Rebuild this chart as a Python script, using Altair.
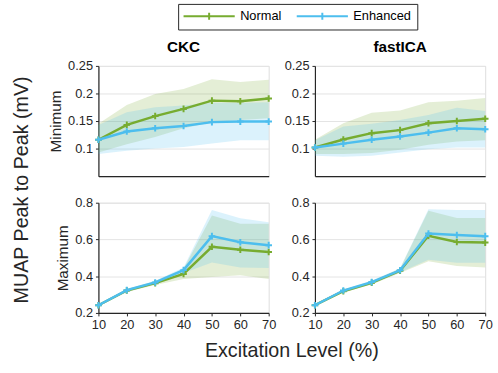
import altair as alt
import pandas as pd

levels = [10, 20, 30, 40, 50, 60, 70]
groups = ["Normal", "Enhanced"]
group_colors = ["#77AC30", "#4DBEEE"]

# CKC - Minimum
ckc_min_normal_mean = [0.116, 0.143, 0.159, 0.172, 0.187, 0.186, 0.191]
ckc_min_normal_lo = [0.093, 0.108, 0.121, 0.137, 0.148, 0.152, 0.155]
ckc_min_normal_hi = [0.145, 0.179, 0.199, 0.208, 0.226, 0.221, 0.225]
ckc_min_enh_mean = [0.116, 0.131, 0.137, 0.141, 0.148, 0.149, 0.149]
ckc_min_enh_lo = [0.090, 0.096, 0.100, 0.103, 0.109, 0.115, 0.115]
ckc_min_enh_hi = [0.143, 0.166, 0.175, 0.178, 0.183, 0.183, 0.184]

# fastICA - Minimum
ica_min_normal_mean = [0.102, 0.1165, 0.128, 0.1335, 0.146, 0.150, 0.154]
ica_min_normal_lo = [0.090, 0.090, 0.092, 0.098, 0.107, 0.113, 0.115]
ica_min_normal_hi = [0.116, 0.146, 0.165, 0.169, 0.184, 0.187, 0.192]
ica_min_enh_mean = [0.102, 0.109, 0.116, 0.122, 0.129, 0.137, 0.135]
ica_min_enh_lo = [0.087, 0.085, 0.087, 0.093, 0.099, 0.102, 0.102]
ica_min_enh_hi = [0.115, 0.140, 0.145, 0.152, 0.161, 0.174, 0.168]

# CKC - Maximum
ckc_max_normal_mean = [0.242, 0.322, 0.362, 0.412, 0.560, 0.544, 0.532]
ckc_max_normal_lo = [0.235, 0.314, 0.352, 0.385, 0.395, 0.405, 0.385]
ckc_max_normal_hi = [0.249, 0.330, 0.372, 0.440, 0.730, 0.685, 0.685]
ckc_max_enh_mean = [0.242, 0.324, 0.366, 0.433, 0.618, 0.585, 0.569]
ckc_max_enh_lo = [0.236, 0.316, 0.357, 0.418, 0.474, 0.447, 0.444]
ckc_max_enh_hi = [0.248, 0.332, 0.375, 0.448, 0.760, 0.715, 0.694]

# fastICA - Maximum
ica_max_normal_mean = [0.242, 0.318, 0.364, 0.430, 0.620, 0.586, 0.583]
ica_max_normal_lo = [0.236, 0.311, 0.355, 0.418, 0.482, 0.456, 0.447]
ica_max_normal_hi = [0.248, 0.326, 0.373, 0.442, 0.756, 0.717, 0.717]
ica_max_enh_mean = [0.242, 0.322, 0.368, 0.432, 0.632, 0.624, 0.618]
ica_max_enh_lo = [0.236, 0.315, 0.360, 0.421, 0.490, 0.473, 0.473]
ica_max_enh_hi = [0.248, 0.329, 0.376, 0.443, 0.765, 0.760, 0.760]

series = {
    ("CKC", "Minimum", "Normal"): (ckc_min_normal_mean, ckc_min_normal_lo, ckc_min_normal_hi),
    ("CKC", "Minimum", "Enhanced"): (ckc_min_enh_mean, ckc_min_enh_lo, ckc_min_enh_hi),
    ("fastICA", "Minimum", "Normal"): (ica_min_normal_mean, ica_min_normal_lo, ica_min_normal_hi),
    ("fastICA", "Minimum", "Enhanced"): (ica_min_enh_mean, ica_min_enh_lo, ica_min_enh_hi),
    ("CKC", "Maximum", "Normal"): (ckc_max_normal_mean, ckc_max_normal_lo, ckc_max_normal_hi),
    ("CKC", "Maximum", "Enhanced"): (ckc_max_enh_mean, ckc_max_enh_lo, ckc_max_enh_hi),
    ("fastICA", "Maximum", "Normal"): (ica_max_normal_mean, ica_max_normal_lo, ica_max_normal_hi),
    ("fastICA", "Maximum", "Enhanced"): (ica_max_enh_mean, ica_max_enh_lo, ica_max_enh_hi),
}

rows = []
for (method, metric, group), (m, lo, hi) in series.items():
    for i, lv in enumerate(levels):
        rows.append(dict(method=method, metric=metric, group=group,
                         level=lv, mean=m[i], lo=lo[i], hi=hi[i]))
df = pd.DataFrame(rows)

W, H = 173, 112
FONT = "Liberation Sans"
AX_COL = "#262626"
PLUS = "M-1,0H1M0,-1V1"
LEG_SYM = "M-5.2,0H5.2M0,-0.7V0.7"

color_scale = alt.Scale(domain=groups, range=group_colors)
legend = alt.Legend(
    orient="none", legendX=81, legendY=-63, direction="horizontal", title=None,
    symbolType=LEG_SYM, symbolSize=100, symbolStrokeWidth=2, symbolOffset=19,
    symbolFillColor="transparent",
    labelFontSize=13, labelFont=FONT, labelColor="#000000",
    strokeColor=AX_COL, fillColor="white", padding=6, columnPadding=11,
    labelOffset=25,
)


def panel(method, metric, bottom, left):
    d = df[(df.method == method) & (df.metric == metric)]
    if metric == "Minimum":
        dom, vals = [0.05, 0.25], [0.1, 0.15, 0.2, 0.25]
    else:
        dom, vals = [0.2, 0.8], [0.2, 0.4, 0.6, 0.8]
    xenc = alt.X(
        "level:Q",
        scale=alt.Scale(domain=[10, 70], nice=False, zero=False),
        axis=alt.Axis(values=levels, labels=bottom, ticks=bottom, grid=False, title=None,
                      domainColor=AX_COL, domainWidth=1.2, tickColor=AX_COL, tickSize=3,
                      labelFontSize=13, labelFont=FONT, labelColor=AX_COL, labelPadding=3,
                      labelFlush=False),
    )
    yaxis = alt.Axis(values=vals, format="~g", grid=True, gridColor="#e3e3e3",
                     title=metric if left else None, titleFontSize=15.5, titleFont=FONT,
                     titleFontWeight="normal", titleColor=AX_COL, titlePadding=4,
                     domainColor=AX_COL, domainWidth=1.2, tickColor=AX_COL, tickSize=3,
                     labelFontSize=13, labelFont=FONT, labelColor=AX_COL, labelPadding=3)
    yscale = alt.Scale(domain=dom, nice=False, zero=False)
    layers = []
    for g, c in zip(groups, group_colors):
        dg = d[d.group == g]
        layers.append(
            alt.Chart(dg).mark_area(color=c, opacity=0.2).encode(
                x=xenc,
                y=alt.Y("lo:Q", scale=yscale, axis=yaxis),
                y2="hi:Q",
            )
        )
    for g in groups:
        dg = d[d.group == g]
        layers.append(
            alt.Chart(dg).mark_line(
                strokeWidth=2.5,
                point=alt.OverlayMarkDef(shape=PLUS, filled=False, size=45, strokeWidth=2),
            ).encode(
                x=xenc,
                y=alt.Y("mean:Q", scale=yscale, axis=yaxis),
                color=alt.Color("group:N", scale=color_scale, legend=legend),
            )
        )
    if left and not bottom:
        layers.append(
            alt.Chart(pd.DataFrame({"t": ["MUAP Peak to Peak (mV)"]})).mark_text(
                angle=270, fontSize=20, font=FONT, color=AX_COL, align="center", baseline="middle"
            ).encode(x=alt.value(-78), y=alt.value(126), text="t:N")
        )
    if left and bottom:
        layers.append(
            alt.Chart(pd.DataFrame({"t": ["Excitation Level (%)"]})).mark_text(
                fontSize=20, font=FONT, color=AX_COL, align="center", baseline="middle"
            ).encode(x=alt.value(196.5), y=alt.value(151), text="t:N")
        )
    ch = alt.layer(*layers).properties(width=W, height=H)
    if not bottom:
        ch = ch.properties(title=alt.TitleParams(method, fontSize=15.5, font=FONT,
                                                 fontWeight="bold", color="#000000", offset=5))
    return ch


chart = alt.concat(
    panel("CKC", "Minimum", False, True),
    panel("fastICA", "Minimum", False, False),
    panel("CKC", "Maximum", True, True),
    panel("fastICA", "Maximum", True, False),
    columns=2,
    spacing=alt.RowColnumber(row=27, column=47),
    bounds="flush",
).properties(
    padding={"left": 11, "top": 0, "right": 5, "bottom": 5}
).configure_view(stroke=None).configure(background="white")

chart.save("out.html", embed_options={"renderer": "svg", "actions": False})
